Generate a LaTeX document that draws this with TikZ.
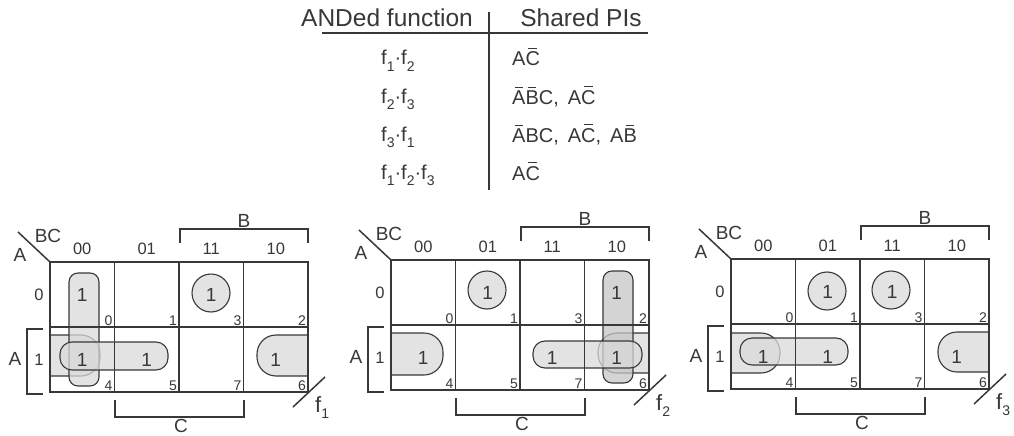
\documentclass[tikz,border=0pt]{standalone}
\usepackage{fontspec}
\setmainfont{Liberation Sans}
\usetikzlibrary{calc}
\definecolor{ink}{HTML}{383838}
\definecolor{loopfill}{HTML}{DADADA}
\definecolor{loopdark}{HTML}{C6C6C6}
\newcommand\sbs[1]{\raisebox{-0.3em}{\fontsize{14}{14}\selectfont #1}}
\newcommand\nb[1]{\setbox0\hbox{#1}\rlap{\hbox to \wd0{\hss\rule[1.2\ht0]{0.6\wd0}{0.9pt}\hss}}\box0}
\newcommand\fsz[1]{\fontsize{#1}{#1}\selectfont}
\tikzset{
  every node/.style={text=ink, inner sep=0pt},
  gridline/.style={draw=ink, line width=1.5pt},
  thinline/.style={draw=ink, line width=1.2pt},
  looppath/.style={draw=ink, line width=1.1pt, fill=loopfill, fill opacity=0.75},
  loopdk/.style={draw=ink, line width=1.1pt, fill=loopdark, fill opacity=0.75},
  hdr/.style={font=\fsz{24.5}},
  rowtxt/.style={font=\fsz{20}},
  lbl/.style={font=\fsz{19}},
  collbl/.style={font=\fsz{16.5}},
  onetxt/.style={font=\fsz{19}},
  idx/.style={font=\fsz{14}},
  ftxt/.style={font=\fsz{22}},
}
% #1 x0, #2 y0, #3 prefix, #4 f index, #5 loops, #6 ones
\newcommand\kmap[6]{%
\begin{scope}[shift={(#1,#2)}]
  #5
  \draw[gridline] (0,0) rectangle (258,130);
  \draw[gridline] (64.5,0) -- (64.5,130);
  \draw[gridline] (129,0) -- (129,130);
  \draw[gridline] (193.5,0) -- (193.5,130);
  \draw[gridline] (0,65) -- (258,65);
  \draw[gridline] (-32,-30) -- (0,0);
  \node[lbl] (#3BC) at (-2,-26) {BC};
  \node[lbl] (#3Acorner) at (-30,-7) {A};
  \foreach \cc/\tt in {0/00,1/01,2/11,3/10}
    \node[collbl] (#3col\cc) at (\cc*64.5+32.25,-13) {\tt};
  \node[collbl] (#3row0) at (-11,33) {0};
  \node[collbl] (#3row1) at (-11,97.5) {1};
  \foreach \cc/\rr/\nn in {0/0/0,1/0/1,2/0/3,3/0/2,0/1/4,1/1/5,2/1/7,3/1/6}
    \node[idx, anchor=south east] (#3idx\nn) at (\cc*64.5+62.5,\rr*65+64) {\nn};
  \draw[thinline] (-7,67) -- (-23,67) -- (-23,132) -- (-7,132);
  \node[lbl] (#3Aside) at (-35,97) {A};
  \draw[thinline] (130,-19) -- (130,-33) -- (258,-33) -- (258,-19);
  \node[lbl] (#3B) at (194,-41) {B};
  \draw[thinline] (65,138) -- (65,155) -- (194,155) -- (194,138);
  \node[lbl] (#3C) at (131,164) {C};
  \draw[gridline] (243,145) -- (275,115);
  \node[ftxt, anchor=base west] (#3f) at (265,150) {f\sbs{#4}};
  #6
\end{scope}}
\newcommand\one[3]{\node[onetxt] (#1) at (#2*64.5+32.25,#3*65+32.5) {1};}
\begin{document}
\begin{tikzpicture}[x=1pt,y=-1pt]
\useasboundingbox[fill=white] (0,0) rectangle (1014,436);
% table
\node[hdr, anchor=base] (h1) at (387,27) {ANDed function};
\node[hdr, anchor=base] (h2) at (581,27) {Shared PIs};
\draw[thinline] (322,33) -- (648,33);
\draw[thinline] (489,12) -- (489,190);
\node[rowtxt, anchor=base west] (r1a) at (381,65) {f\sbs{1}·f\sbs{2}};
\node[rowtxt, anchor=base west] (r2a) at (381,103) {f\sbs{2}·f\sbs{3}};
\node[rowtxt, anchor=base west] (r3a) at (381,141) {f\sbs{3}·f\sbs{1}};
\node[rowtxt, anchor=base west] (r4a) at (381,179) {f\sbs{1}·f\sbs{2}·f\sbs{3}};
\node[rowtxt, anchor=base west] (r1b) at (512,66) {A\nb{C}};
\node[rowtxt, anchor=base west] (r2b) at (512,104) {\nb{A}\nb{B}C,\hspace{0.45em}A\nb{C}};
\node[rowtxt, anchor=base west] (r3b) at (512,142) {\nb{A}BC,\hspace{0.45em}A\nb{C},\hspace{0.45em}A\nb{B}};
\node[rowtxt, anchor=base west] (r4b) at (512,180) {A\nb{C}};
% map 1
\kmap{50}{262}{m1}{1}{%
  \path[looppath, rounded corners=19] (0,73) -- (50,73) -- (50,114) -- (0,114);
  \path[looppath, rounded corners=19] (258,73) -- (207,73) -- (207,114) -- (258,114);
  \draw[looppath, rounded corners=9] (19,11) rectangle (49,124);
  \draw[looppath, rounded corners=12] (10,80) rectangle (118,108);
  \draw[looppath] (161,31) circle[radius=19];
}{%
  \one{m1v0}{0}{0}\one{m1v3}{2}{0}\one{m1v4}{0}{1}\one{m1v5}{1}{1}\one{m1v6}{3}{1}
}
% map 2
\kmap{391}{260}{m2}{2}{%
  \path[looppath, rounded corners=19] (0,73) -- (52,73) -- (52,115) -- (0,115);
  \path[looppath, rounded corners=19] (258,73) -- (207,73) -- (207,113) -- (258,113);
  \draw[loopdk, rounded corners=9] (212,11) rectangle (242,123);
  \draw[looppath, rounded corners=12] (142,81) rectangle (251,108);
  \draw[looppath] (96,30) circle[radius=19];
}{%
  \one{m2v1}{1}{0}\one{m2v2}{3}{0}\one{m2v4}{0}{1}\one{m2v7}{2}{1}\one{m2v6}{3}{1}
}
% map 3
\kmap{731}{259}{m3}{3}{%
  \path[looppath, rounded corners=19] (0,74) -- (49,74) -- (49,114) -- (0,114);
  \path[looppath, rounded corners=19] (258,73) -- (207,73) -- (207,113) -- (258,113);
  \draw[looppath, rounded corners=12] (9,79) rectangle (117,106);
  \draw[looppath] (96,32) circle[radius=19];
  \draw[looppath] (160,31) circle[radius=19];
}{%
  \one{m3v1}{1}{0}\one{m3v3}{2}{0}\one{m3v4}{0}{1}\one{m3v5}{1}{1}\one{m3v6}{3}{1}
}
\end{tikzpicture}
\end{document}
